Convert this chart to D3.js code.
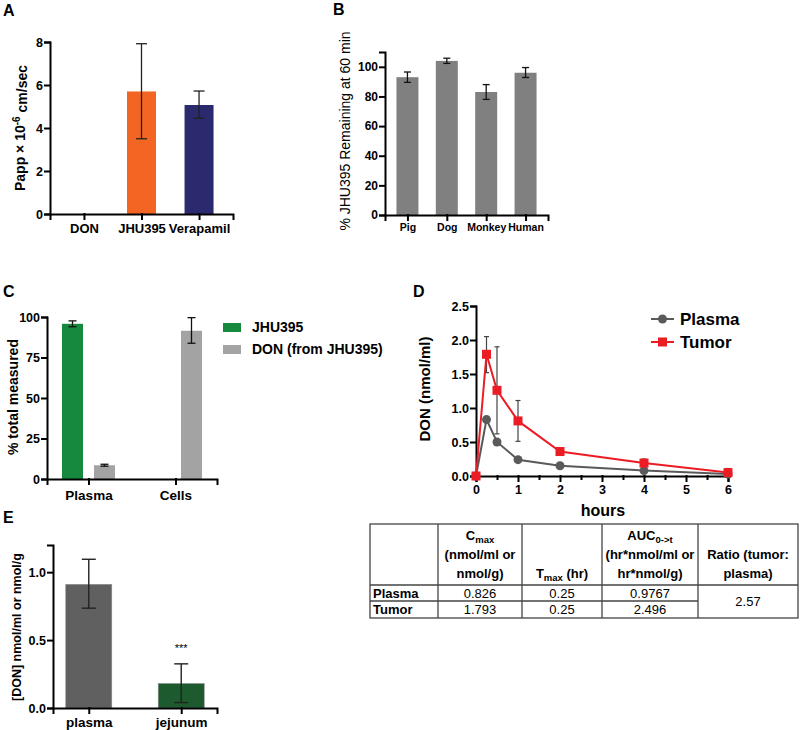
<!DOCTYPE html>
<html>
<head>
<meta charset="utf-8">
<script src="https://cdnjs.cloudflare.com/ajax/libs/d3/7.8.5/d3.min.js"></script>
<style>
	body { margin: 0; background: #fff; }
	svg { font-family: Arial, "Liberation Sans", sans-serif; }
	.axis path, .axis line { stroke: #000; stroke-width: 2; stroke-linecap: square; }
	.axis text { font-weight: bold; font-size: 12px; fill: #000; font-family: Arial, "Liberation Sans", sans-serif; }
	.plabel { font-weight: bold; font-size: 16px; }
</style>
</head>
<body>
<svg width="800" height="730" id="chart"></svg>
<script>
// panel A: permeability
var aCats = ["DON", "JHU395", "Verapamil"],
	aVals = [0, 5.7, 5.07],
	aLo = [0, 3.5, 4.45],
	aHi = [0, 7.92, 5.72],
	aColors = ["#f26522", "#f26522", "#2b2a6e"],
	aTicks = [0, 2, 4, 6, 8];

// panel B: stability
var bCats = ["Pig", "Dog", "Monkey", "Human"],
	bVals = [93, 104, 83, 96],
	bLo = [89.5, 102.3, 78, 92.8],
	bHi = [96.5, 105.8, 88, 99.5],
	bTicks = [0, 20, 40, 60, 80, 100];

// panel C: distribution
var cCats = ["Plasma", "Cells"],
	cSeries = ["JHU395", "DON (from JHU395)"],
	cColors = ["#17893f", "#a3a3a3"],
	cJhu = [95.8, 0], cJhuLo = [94, 0], cJhuHi = [97.6, 0],
	cDon = [8.5, 91.5], cDonLo = [7.9, 83.8], cDonHi = [9.1, 99.6],
	cTicks = [0, 25, 50, 75, 100];

// panel D: PK curves
var dHours = [0, 0.25, 0.5, 1, 2, 4, 6],
	dPlasma = [0, 0.83, 0.5, 0.24, 0.15, 0.08, 0.03],
	dPlasmaLo = [0, 0.79, 0.47, 0.22, 0.13, 0.06, 0.02],
	dPlasmaHi = [0, 0.87, 0.53, 0.26, 0.17, 0.10, 0.05],
	dTumor = [0, 1.79, 1.26, 0.81, 0.36, 0.19, 0.05],
	dTumorLo = [0, 1.52, 0.62, 0.51, 0.32, 0.15, 0],
	dTumorHi = [0, 2.05, 1.90, 1.11, 0.41, 0.25, 0.11],
	dXTicks = [0, 1, 2, 3, 4, 5, 6],
	dYTicks = [0, 0.5, 1, 1.5, 2, 2.5];

// table
var tHead = [
	[],
	[["C", "max"], ["(nmol/ml or"], ["nmol/g)"]],
	[["T", "max", " (hr)"]],
	[["AUC", "0->t"], ["(hr*nmol/ml or"], ["hr*nmol/g)"]],
	[["Ratio (tumor:"], ["plasma)"]]
];
var tRows = ["Plasma", "Tumor"],
	tCmax = ["0.826", "1.793"],
	tTmax = ["0.25", "0.25"],
	tAuc = ["0.9767", "2.496"],
	tRatio = "2.57";

// panel E: tissue
var eCats = ["plasma", "jejunum"],
	eVals = [0.91, 0.18],
	eLo = [0.735, 0.04],
	eHi = [1.095, 0.325],
	eColors = ["#606060", "#1d5a2e"],
	eTicks = [0, 0.5, 1.0];

var svg = d3.select("svg");

function yAxis(x0, y, ticks, fmt, fs) {
	var g = svg.append("g").attr("class", "axis")
		.attr("transform", "translate(" + x0 + ",0)")
		.call(d3.axisLeft(y).tickValues(ticks).tickFormat(fmt).tickSizeOuter(0).tickSize(5).tickPadding(2));
	if (fs) g.selectAll("text").style("font-size", fs + "px");
	return g;
}
function xAxis(y0, x, fs, pad) {
	var g = svg.append("g").attr("class", "axis")
		.attr("transform", "translate(0," + y0 + ")")
		.call(d3.axisBottom(x).tickSizeOuter(0).tickSize(5).tickPadding(pad));
	g.selectAll("text").style("font-size", fs + "px");
	return g;
}
function errBars(xs, lo, hi, y, cap, color, w) {
	var g = svg.append("g").attr("stroke", color).attr("stroke-width", w || 1.3);
	xs.forEach(function(xv, i) {
		if (hi[i] === lo[i]) return;
		g.append("line").attr("x1", xv).attr("x2", xv).attr("y1", y(lo[i])).attr("y2", y(hi[i]));
		g.append("line").attr("x1", xv - cap / 2).attr("x2", xv + cap / 2).attr("y1", y(lo[i])).attr("y2", y(lo[i]));
		g.append("line").attr("x1", xv - cap / 2).attr("x2", xv + cap / 2).attr("y1", y(hi[i])).attr("y2", y(hi[i]));
	});
}
function ylabel(x, y, size, weight, txt) {
	return svg.append("text")
		.attr("transform", "translate(" + x + "," + y + ") rotate(-90)")
		.attr("text-anchor", "middle").attr("dy", "0.35em")
		.style("font-size", size + "px").style("font-weight", weight)
		.text(txt);
}
function plabel(x, y, t) {
	svg.append("text").attr("class", "plabel").attr("x", x).attr("y", y).text(t);
}

// ---------- A ----------
var ax = d3.scalePoint().domain(aCats).range([50, 233]).padding(0.59),
	ay = d3.scaleLinear().domain([0, 8]).range([214, 42]);
svg.append("g").selectAll("rect").data(aCats).enter().append("rect")
	.attr("x", function(d) { return ax(d) - 14.5; })
	.attr("width", 29)
	.attr("y", function(d, i) { return ay(aVals[i]); })
	.attr("height", function(d, i) { return ay(0) - ay(aVals[i]); })
	.attr("fill", function(d, i) { return aColors[i]; });
errBars(aCats.map(ax), aLo, aHi, ay, 11, "#222");
yAxis(50, ay, aTicks, d3.format("d"), 12.5);
xAxis(214, ax, 13, 5);
var aLab = ylabel(20, 128, 14, "bold", "Papp \u00d7 10");
aLab.append("tspan").attr("dy", "-0.45em").style("font-size", "10px").text("-6");
aLab.append("tspan").attr("dy", "0.45em").text(" cm/sec");
plabel(3, 16, "A");

// ---------- B ----------
var bx = d3.scalePoint().domain(bCats).range([385, 548]).padding(0.57),
	by = d3.scaleLinear().domain([0, 110]).range([215, 52]);
svg.append("g").selectAll("rect").data(bCats).enter().append("rect")
	.attr("x", function(d) { return bx(d) - 11; })
	.attr("width", 22)
	.attr("y", function(d, i) { return by(bVals[i]); })
	.attr("height", function(d, i) { return by(0) - by(bVals[i]); })
	.attr("fill", "#808080");
errBars(bCats.map(bx), bLo, bHi, by, 7, "#111");
yAxis(385, by, bTicks, d3.format("d"), 12);
xAxis(215, bx, 10.5, 4);
ylabel(345, 131, 14, "normal", "% JHU395 Remaining at 60 min");
plabel(333, 15, "B");

// ---------- C ----------
var cx = d3.scalePoint().domain(cCats).range([47, 217]).padding(0.477),
	cy = d3.scaleLinear().domain([0, 100]).range([479, 317]),
	cOff = d3.scalePoint().domain(cSeries).range([-16, 16]);
var cData = [[cJhu, cJhuLo, cJhuHi], [cDon, cDonLo, cDonHi]];
cSeries.forEach(function(s, si) {
	var vals = cData[si][0];
	svg.append("g").selectAll("rect").data(cCats).enter().append("rect")
		.attr("x", function(d) { return cx(d) + cOff(s) - 10.5; })
		.attr("width", 21)
		.attr("y", function(d, i) { return cy(vals[i]); })
		.attr("height", function(d, i) { return cy(0) - cy(vals[i]); })
		.attr("fill", cColors[si]);
	errBars(cCats.map(function(c) { return cx(c) + cOff(s); }), cData[si][1], cData[si][2], cy, 8, "#111");
});
yAxis(47, cy, cTicks, d3.format("d"), 12.5);
xAxis(479, cx, 13.5, 6);
ylabel(13, 397, 14, "bold", "% total measured");
var cLeg = svg.append("g");
cSeries.forEach(function(s, i) {
	cLeg.append("rect").attr("x", 223).attr("y", 323 + i * 22).attr("width", 18).attr("height", 9).attr("fill", cColors[i]);
	cLeg.append("text").attr("x", 252).attr("y", 327.5 + i * 22).attr("dy", "0.35em")
		.style("font-size", "14px").style("font-weight", "bold").text(s);
});
plabel(3, 297, "C");

// ---------- D ----------
var dx = d3.scaleLinear().domain([0, 6]).range([476, 728]),
	dy = d3.scaleLinear().domain([0, 2.5]).range([476, 306]);
// minor x ticks
svg.append("g").attr("class", "axis").attr("transform", "translate(0,476)")
	.call(d3.axisBottom(dx).tickValues(d3.range(0.5, 6, 1)).tickSize(3).tickFormat(""))
	.select(".domain").remove();
yAxis(476, dy, dYTicks, d3.format(".1f"), 12.5);
svg.append("g").attr("class", "axis").attr("transform", "translate(0,476)")
	.call(d3.axisBottom(dx).tickValues(dXTicks).tickFormat(d3.format("d")).tickSizeOuter(0).tickSize(5).tickPadding(4))
	.selectAll("text").style("font-size", "12.5px");
var line = d3.line().x(function(d) { return dx(d[0]); }).y(function(d) { return dy(d[1]); });
errBars(dHours.map(dx), dPlasmaLo, dPlasmaHi, dy, 5, "#444", 1.2);
errBars(dHours.map(dx), dTumorLo, dTumorHi, dy, 5, "#444", 1.2);
svg.append("path").datum(dHours.map(function(h, i) { return [h, dPlasma[i]]; }))
	.attr("d", line).attr("fill", "none").attr("stroke", "#5a5a5a").attr("stroke-width", 2);
svg.append("path").datum(dHours.map(function(h, i) { return [h, dTumor[i]]; }))
	.attr("d", line).attr("fill", "none").attr("stroke", "#ec1c24").attr("stroke-width", 2);
svg.append("g").selectAll("circle").data(dHours).enter().append("circle")
	.attr("cx", function(d) { return dx(d); })
	.attr("cy", function(d, i) { return dy(dPlasma[i]); })
	.attr("r", 4.5).attr("fill", "#5a5a5a");
svg.append("g").selectAll("rect").data(dHours).enter().append("rect")
	.attr("x", function(d) { return dx(d) - 4.5; })
	.attr("y", function(d, i) { return dy(dTumor[i]) - 4.5; })
	.attr("width", 9).attr("height", 9).attr("fill", "#ec1c24");
// legend
var dLeg = svg.append("g");
dLeg.append("line").attr("x1", 651).attr("x2", 674).attr("y1", 319).attr("y2", 319).attr("stroke", "#5a5a5a").attr("stroke-width", 2);
dLeg.append("circle").attr("cx", 662.5).attr("cy", 319).attr("r", 4.5).attr("fill", "#5a5a5a");
dLeg.append("text").attr("x", 680).attr("y", 319).attr("dy", "0.35em").style("font-size", "17px").style("font-weight", "bold").text("Plasma");
dLeg.append("line").attr("x1", 651).attr("x2", 674).attr("y1", 342).attr("y2", 342).attr("stroke", "#ec1c24").attr("stroke-width", 2);
dLeg.append("rect").attr("x", 658).attr("y", 337.5).attr("width", 9).attr("height", 9).attr("fill", "#ec1c24");
dLeg.append("text").attr("x", 680).attr("y", 342).attr("dy", "0.35em").style("font-size", "17px").style("font-weight", "bold").text("Tumor");
ylabel(425, 389, 15, "bold", "DON (nmol/ml)");
svg.append("text").attr("x", 603).attr("y", 516).attr("text-anchor", "middle")
	.style("font-size", "16px").style("font-weight", "bold").text("hours");
plabel(413, 297, "D");

// ---------- table ----------
var colX = [370, 438, 522, 602, 698, 798],
	rowY = [524, 585, 601, 618];
var tg = svg.append("g").attr("stroke", "#444").attr("stroke-width", 1.3);
tg.append("rect").attr("x", colX[0]).attr("y", rowY[0]).attr("width", colX[5] - colX[0]).attr("height", rowY[3] - rowY[0]).attr("fill", "none");
colX.slice(1, 5).forEach(function(c) {
	tg.append("line").attr("x1", c).attr("x2", c).attr("y1", rowY[0]).attr("y2", rowY[3]);
});
tg.append("line").attr("x1", colX[0]).attr("x2", colX[5]).attr("y1", rowY[1]).attr("y2", rowY[1]);
tg.append("line").attr("x1", colX[0]).attr("x2", colX[4]).attr("y1", rowY[2]).attr("y2", rowY[2]);
tHead.forEach(function(lines, ci) {
	if (!lines.length) return;
	var cxm = (colX[ci] + colX[ci + 1]) / 2;
	lines.forEach(function(parts, li) {
		var t = svg.append("text").attr("x", cxm).attr("y", 578 - (lines.length - 1 - li) * 19)
			.attr("text-anchor", "middle").style("font-size", "13px").style("font-weight", "bold");
		t.append("tspan").text(parts[0]);
		if (parts.length > 1) t.append("tspan").attr("dy", "3").style("font-size", "9.5px").text(parts[1]);
		if (parts.length > 2) t.append("tspan").attr("dy", "-3").text(parts[2]);
	});
});
var tCols = [tCmax, tTmax, tAuc];
tRows.forEach(function(r, ri) {
	var ym = (rowY[ri + 1] + rowY[ri + 2]) / 2;
	svg.append("text").attr("x", colX[0] + 3).attr("y", ym).attr("dy", "0.35em")
		.style("font-size", "13px").style("font-weight", "bold").text(r);
	tCols.forEach(function(col, ci) {
		svg.append("text").attr("x", (colX[ci + 1] + colX[ci + 2]) / 2).attr("y", ym).attr("dy", "0.35em")
			.attr("text-anchor", "middle").style("font-size", "13px").text(col[ri]);
	});
});
svg.append("text").attr("x", (colX[4] + colX[5]) / 2).attr("y", (rowY[1] + rowY[3]) / 2).attr("dy", "0.35em")
	.attr("text-anchor", "middle").style("font-size", "13px").text(tRatio);

// ---------- E ----------
var ex = d3.scalePoint().domain(eCats).range([53, 217]).padding(0.387),
	ey = d3.scaleLinear().domain([0, 1.2]).range([708, 545]);
svg.append("g").selectAll("rect").data(eCats).enter().append("rect")
	.attr("x", function(d) { return ex(d) - 23; })
	.attr("width", 46)
	.attr("y", function(d, i) { return ey(eVals[i]); })
	.attr("height", function(d, i) { return ey(0) - ey(eVals[i]); })
	.attr("fill", function(d, i) { return eColors[i]; })
	.attr("stroke", "#8a8a8a").attr("stroke-width", 0.6);
errBars(eCats.map(ex), eLo, eHi, ey, 14, "#222", 1.4);
yAxis(53, ey, eTicks, d3.format(".1f"), 12.5);
xAxis(708, ex, 13.5, 4);
svg.append("text").attr("x", ex("jejunum")).attr("y", ey(eHi[1]) - 12).attr("text-anchor", "middle")
	.style("font-size", "11px").text("***");
ylabel(17, 627, 12.5, "bold", "[DON] nmol/ml or nmol/g");
plabel(3, 523, "E");
</script>
</body>
</html>
